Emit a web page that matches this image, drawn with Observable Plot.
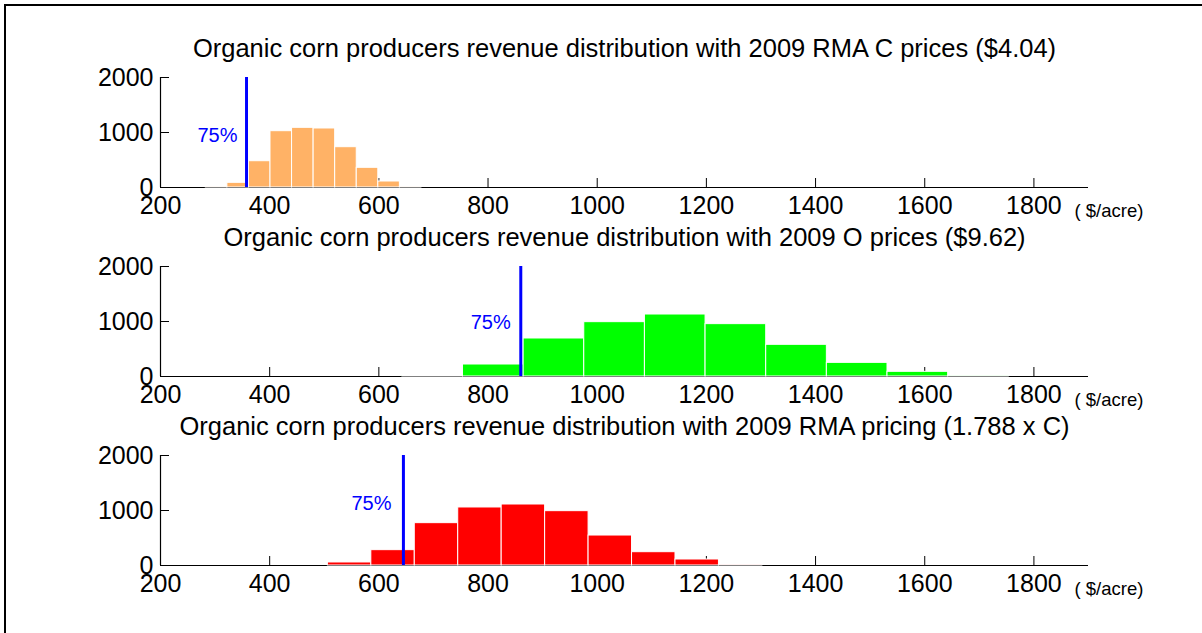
<!DOCTYPE html>
<html>
<head>
<meta charset="utf-8">
<script src="https://cdn.jsdelivr.net/npm/d3@7"></script>
<script src="https://cdn.jsdelivr.net/npm/@observablehq/plot@0.6"></script>
<style>
  html, body { margin: 0; padding: 0; background: white; }
  #chart { position: relative; width: 1202px; height: 633px; overflow: hidden; background: white; }
  #frame { position: absolute; left: 4px; top: 4px; width: 1200px; height: 640px;
           border-top: 2px solid black; border-left: 2px solid black; }
</style>
</head>
<body>
<div id="chart"><div id="frame"></div></div>
<script>
// ---- data ----
const xTicks = [200, 400, 600, 800, 1000, 1200, 1400, 1600, 1800];
const yTicks = [0, 1000, 2000];
const unitLabel = "( $/acre)";
const coverageLabel = "75%";

const titles = [
  "Organic corn producers revenue distribution with 2009 RMA C prices ($4.04)",
  "Organic corn producers revenue distribution with 2009 O prices ($9.62)",
  "Organic corn producers revenue distribution with 2009 RMA pricing (1.788 x C)"
];

// histogram bin edges ($/acre) and counts
const rmaCEdges  = [283, 322.5, 362, 401.5, 441, 480.5, 520, 559.5, 599, 638.5, 678];
const rmaCCounts = [3, 85, 478, 1024, 1085, 1073, 733, 358, 109, 3];

const oEdges  = [643, 754.1, 865.2, 976.3, 1087.4, 1198.5, 1309.6, 1420.7, 1531.8, 1642.9, 1754];
const oCounts = [18, 218, 691, 988, 1127, 952, 576, 248, 85, 3];

const rmaPEdges  = [506.6, 586.2, 665.8, 745.4, 825, 904.6, 984.2, 1063.8, 1143.4, 1223, 1302.6];
const rmaPCounts = [55, 279, 770, 1055, 1109, 988, 545, 242, 109, 3];

// 75% coverage revenue level per panel and the height of its label
const coverage75 = [357.6, 860, 645];
const coverageLabelY = [945, 973, 1122];

const barColors = ["#FFB266", "#00FF00", "#FF0000"];

// ---- drawing ----
const font = "'Liberation Sans', Arial, Helvetica, sans-serif";
const W = 1202, H = 633;
const frameTops = [77, 266, 455];
const frameBottoms = [187, 376, 565];
const labelDx = [-9, -10, -12];

const panels = [
  {edges: rmaCEdges, counts: rmaCCounts},
  {edges: oEdges, counts: oCounts},
  {edges: rmaPEdges, counts: rmaPCounts}
];

const chart = document.getElementById("chart");

panels.forEach((p, k) => {
  const bins = p.counts.map((c, i) => ({x1: p.edges[i], x2: p.edges[i + 1], count: c}));
  const svg = Plot.plot({
    width: W,
    height: H,
    marginTop: frameTops[k],
    marginBottom: H - frameBottoms[k],
    marginLeft: 160,
    marginRight: 114,
    style: {position: "absolute", left: "0px", top: "0px", background: "transparent",
            overflow: "visible", fontFamily: font, fontSize: "25px", color: "black"},
    x: {domain: [200, 1900], ticks: xTicks},
    y: {domain: [0, 2000], ticks: yTicks},
    marks: [
      // axis lines and inward ticks (drawn beneath the bars)
      Plot.ruleY([0], {stroke: "black", strokeWidth: 1.2}),
      Plot.ruleX([200], {y1: 0, y2: 2000, stroke: "black", strokeWidth: 1.2}),
      Plot.ruleX(xTicks, {y1: 0, y2: 0, insetTop: -9, stroke: "black"}),
      Plot.ruleY(yTicks, {x1: 200, x2: 200, insetRight: -9, stroke: "black"}),
      Plot.axisX({ticks: xTicks, tickSize: 0, tickPadding: 9, tickFormat: d => String(d),
                  fontSize: 25, label: null}),
      Plot.axisY({ticks: yTicks, tickSize: 0, tickPadding: 7, tickFormat: d => String(d),
                  fontSize: 25, label: null}),
      // histogram bars
      Plot.rectY(bins, {x1: "x1", x2: "x2", y: "count", fill: barColors[k],
                        stroke: "white", strokeWidth: 1}),
      // 75% coverage line
      Plot.ruleX([coverage75[k]], {y1: 0, y2: 2000, stroke: "#0000FF", strokeWidth: 3}),
      Plot.text([{x: coverage75[k], y: coverageLabelY[k], t: coverageLabel}],
                {x: "x", y: "y", text: "t", textAnchor: "end", dx: labelDx[k],
                 fill: "#0000FF", fontSize: 20}),
      // title and unit label
      Plot.text([titles[k]], {frameAnchor: "top", lineAnchor: "middle", dy: -29,
                              fontSize: 25.5, fill: "black"}),
      Plot.text([unitLabel], {frameAnchor: "bottom-right", textAnchor: "start",
                              lineAnchor: "middle", dx: -14, dy: 24, fontSize: 18.5, fill: "black"})
    ]
  });
  chart.appendChild(svg);
});
</script>
</body>
</html>
